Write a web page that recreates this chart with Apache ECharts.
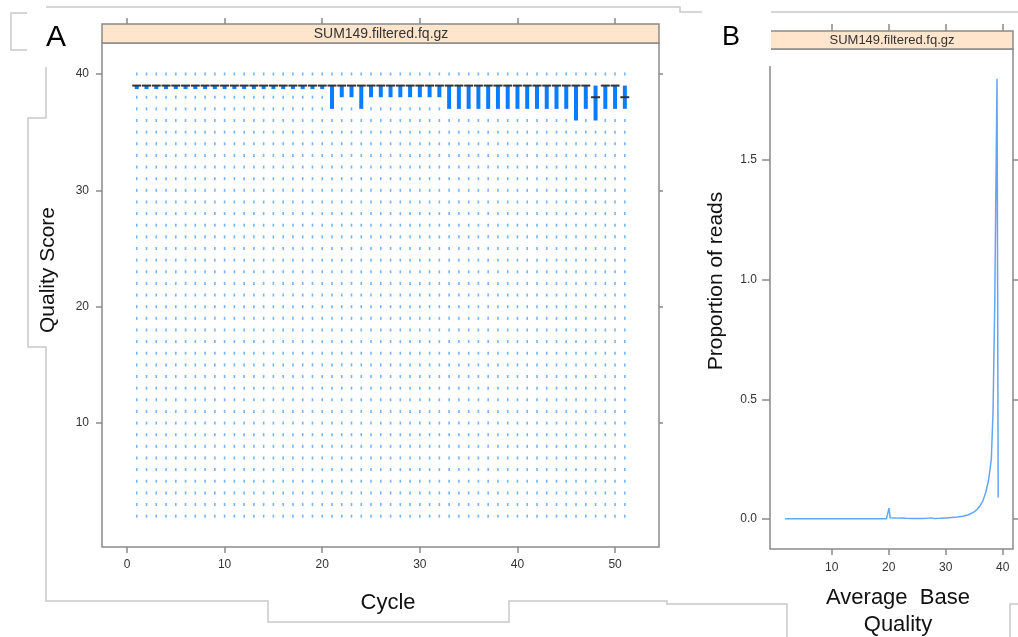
<!DOCTYPE html>
<html>
<head>
<meta charset="utf-8">
<title>SUM149 quality</title>
<script src="https://cdn.jsdelivr.net/npm/echarts@6.0.0/dist/echarts.min.js"></script>
<style>
  html, body { margin: 0; padding: 0; background: #fff; }
  #chart { width: 1018px; height: 637px; }
</style>
</head>
<body>
<div id="chart"></div>
<script>
// panel A: per-cycle quality boxes
const cycles = [1, 2, 3, 4, 5, 6, 7, 8, 9, 10, 11, 12, 13, 14, 15, 16, 17, 18, 19, 20,
  21, 22, 23, 24, 25, 26, 27, 28, 29, 30, 31, 32, 33, 34, 35, 36, 37, 38, 39, 40,
  41, 42, 43, 44, 45, 46, 47, 48, 49, 50, 51];
const lowerQuartile = [39, 39, 39, 39, 39, 39, 39, 39, 39, 39, 39, 39, 39, 39, 39, 39, 39, 39, 39, 39,
  37, 38, 38, 37, 38, 38, 38, 38, 38, 38, 38, 38, 37, 37, 37, 37, 37, 37, 37, 37,
  37, 37, 37, 37, 37, 36, 37, 36, 37, 37, 37];
const medianScore = [39, 39, 39, 39, 39, 39, 39, 39, 39, 39, 39, 39, 39, 39, 39, 39, 39, 39, 39, 39,
  39, 39, 39, 39, 39, 39, 39, 39, 39, 39, 39, 39, 39, 39, 39, 39, 39, 39, 39, 39,
  39, 39, 39, 39, 39, 39, 39, 38, 39, 39, 38];
const upperQuartile = [39, 39, 39, 39, 39, 39, 39, 39, 39, 39, 39, 39, 39, 39, 39, 39, 39, 39, 39, 39,
  39, 39, 39, 39, 39, 39, 39, 39, 39, 39, 39, 39, 39, 39, 39, 39, 39, 39, 39, 39,
  39, 39, 39, 39, 39, 39, 39, 39, 39, 39, 39];
// quality levels seen in the reads (drawn as outlier points outside the box)
const scoreLevels = [2, 3, 4, 5, 6, 7, 8, 9, 10, 11, 12, 13, 14, 15, 16, 17, 18, 19, 20, 21,
  22, 23, 24, 25, 26, 27, 28, 29, 30, 31, 32, 33, 34, 35, 36, 37, 38, 39, 40];
const cycleTicks = [0, 10, 20, 30, 40, 50];
const scoreTicks = [10, 20, 30, 40];

// panel B: density of average read quality
const avgQuality = [1.8, 4, 6, 8, 10, 12, 14, 16, 18, 19.6, 19.95, 20.05, 20.25, 20.6, 21, 21.5, 22, 23,
  24, 25, 26, 27, 27.5, 28, 29, 30, 31, 32, 33, 34, 35, 35.5, 36, 36.5, 37, 37.5, 38,
  38.3, 38.6, 38.85, 39.0, 39.1, 39.2];
const readProportion = [0.001, 0.001, 0.001, 0.001, 0.001, 0.001, 0.001, 0.001, 0.001, 0.001, 0.004, 0.046, 0.006, 0.004, 0.005, 0.004, 0.005, 0.003,
  0.002, 0.002, 0.002, 0.004, 0.005, 0.002, 0.003, 0.005, 0.007, 0.009, 0.012, 0.018, 0.03, 0.04, 0.055, 0.075, 0.11, 0.16, 0.25,
  0.45, 0.9, 1.5, 1.84, 1.0, 0.09];
const avgTicks = [10, 20, 30, 40];
const propTicks = [0, 0.5, 1, 1.5];

const panelTitle = "SUM149.filtered.fq.gz";

const FONT = "'Liberation Sans', Arial, sans-serif";
const frameGrey = "#8a8a8a";
const decoGrey = "#c9c9c9";
const stripFill = "#ffe5cc";
const boxBlue = "#0a7dff";

const boxData = cycles.map((c, i) => [c, lowerQuartile[i], medianScore[i], upperQuartile[i]]);
const outlierData = [];
cycles.forEach((c, i) => {
  scoreLevels.forEach((s) => {
    if (s < lowerQuartile[i] || s > upperQuartile[i]) outlierData.push([c, s]);
  });
});
const densityData = avgQuality.map((q, i) => [q, readProportion[i]]);

function tickAxis(opts) {
  // an axis that only draws ticks (and optionally labels) around a lattice-like frame
  return Object.assign({
    type: "value",
    axisLine: { show: false, onZero: false },
    splitLine: { show: false },
    axisLabel: { show: false },
  }, opts);
}

function ticks(values, len) {
  return { show: true, customValues: values, length: len, lineStyle: { color: frameGrey, width: 1.5 } };
}

function labelStyle(values, margin, formatter) {
  return {
    show: true,
    customValues: values,
    margin: margin,
    fontSize: 12,
    color: "#333",
    fontFamily: FONT,
    formatter: formatter,
  };
}

function renderBox(params, api) {
  const x = api.value(0);
  const lo = api.coord([x, api.value(1)]);
  const med = api.coord([x, api.value(2)]);
  const hi = api.coord([x, api.value(3)]);
  const h = Math.max(lo[1] - hi[1], 3.5);
  return {
    type: "group",
    children: [
      { type: "rect", shape: { x: hi[0] - 2, y: hi[1], width: 4, height: h }, style: { fill: boxBlue } },
      { type: "line", shape: { x1: med[0] - 4.5, y1: med[1], x2: med[0] + 4.5, y2: med[1] },
        style: { stroke: "#333", lineWidth: 2 } },
    ],
  };
}

const chart = echarts.init(document.getElementById("chart"), null, { renderer: "canvas" });

const option = {
  animation: false,
  backgroundColor: "#fff",
  grid: [
    { left: 102, top: 43, width: 557, height: 504, show: true, borderColor: frameGrey, borderWidth: 1.5, backgroundColor: "#fff" },
    { left: 770, top: 49, width: 243, height: 500, show: true, borderColor: frameGrey, borderWidth: 1.5, backgroundColor: "#fff" },
  ],
  xAxis: [
    tickAxis({ gridIndex: 0, min: -2.56, max: 54.5, axisTick: ticks(cycleTicks, 6),
      axisLabel: labelStyle(cycleTicks, 12) }),
    tickAxis({ gridIndex: 0, position: "top", offset: 19, min: -2.56, max: 54.5, axisTick: ticks(cycleTicks, 6) }),
    tickAxis({ gridIndex: 1, min: -0.82, max: 41.8, axisTick: ticks(avgTicks, 6),
      axisLabel: labelStyle(avgTicks, 13) }),
    tickAxis({ gridIndex: 1, position: "top", offset: 18, min: -0.82, max: 41.8, axisTick: ticks(avgTicks, 7) }),
  ],
  yAxis: [
    tickAxis({ gridIndex: 0, min: -0.65, max: 42.66, axisTick: ticks(scoreTicks, 6),
      axisLabel: labelStyle(scoreTicks, 13) }),
    tickAxis({ gridIndex: 0, position: "right", min: -0.65, max: 42.66, axisTick: ticks(scoreTicks, 4) }),
    tickAxis({ gridIndex: 1, min: -0.125, max: 1.964, axisTick: ticks(propTicks, 8),
      axisLabel: labelStyle(propTicks, 13, (v) => Number(v).toFixed(1)) }),
    tickAxis({ gridIndex: 1, position: "right", min: -0.125, max: 1.964, axisTick: ticks(propTicks, 5) }),
  ],
  series: [
    {
      name: "outliers",
      type: "scatter",
      xAxisIndex: 0,
      yAxisIndex: 0,
      data: outlierData,
      symbol: "rect",
      symbolSize: [1.6, 3],
      itemStyle: { color: "#4ea2ff" },
      silent: true,
    },
    {
      name: "boxes",
      type: "custom",
      xAxisIndex: 0,
      yAxisIndex: 0,
      data: boxData,
      renderItem: renderBox,
      encode: { x: 0, y: [1, 2, 3] },
      z: 3,
    },
    {
      name: "density",
      type: "line",
      xAxisIndex: 2,
      yAxisIndex: 2,
      data: densityData,
      showSymbol: false,
      smooth: false,
      lineStyle: { color: "#62a6f7", width: 1.5 },
    },
  ],
  graphic: [
    // strips
    { type: "rect", z: 50, shape: { x: 102, y: 24, width: 557, height: 19 },
      style: { fill: stripFill, stroke: frameGrey, lineWidth: 1.5 } },
    { type: "text", z: 51, x: 381, y: 34,
      style: { text: panelTitle, font: "14px " + FONT, fill: "#333", textAlign: "center", textVerticalAlign: "middle" } },
    { type: "rect", z: 50, shape: { x: 770, y: 31, width: 243, height: 18 },
      style: { fill: stripFill, stroke: frameGrey, lineWidth: 1.5 } },
    { type: "text", z: 51, x: 892, y: 40,
      style: { text: panelTitle, font: "13px " + FONT, fill: "#333", textAlign: "center", textVerticalAlign: "middle" } },
    // white patch that hides the top of panel B's left border
    { type: "rect", z: 60, shape: { x: 703, y: 13, width: 68, height: 53 }, style: { fill: "#fff" } },
    // panel letters
    { type: "text", z: 70, x: 56, y: 38,
      style: { text: "A", font: "30px " + FONT, fill: "#000", textAlign: "center", textVerticalAlign: "middle" } },
    { type: "text", z: 70, x: 731, y: 38,
      style: { text: "B", font: "27px " + FONT, fill: "#000", textAlign: "center", textVerticalAlign: "middle" } },
    // axis titles
    { type: "text", z: 70, x: 48, y: 270, rotation: Math.PI / 2,
      style: { text: "Quality Score", font: "21px " + FONT, fill: "#111", textAlign: "center", textVerticalAlign: "middle" } },
    { type: "text", z: 70, x: 388, y: 603,
      style: { text: "Cycle", font: "22px " + FONT, fill: "#111", textAlign: "center", textVerticalAlign: "middle" } },
    { type: "text", z: 70, x: 716, y: 281, rotation: Math.PI / 2,
      style: { text: "Proportion of reads", font: "21px " + FONT, fill: "#111", textAlign: "center", textVerticalAlign: "middle" } },
    { type: "text", z: 70, x: 898, y: 598,
      style: { text: "Average  Base", font: "22px " + FONT, fill: "#111", textAlign: "center", textVerticalAlign: "middle" } },
    { type: "text", z: 70, x: 898, y: 625,
      style: { text: "Quality", font: "22px " + FONT, fill: "#111", textAlign: "center", textVerticalAlign: "middle" } },
    // light crop outlines of the composed figure
    { type: "polyline", z: 40, silent: true, shape: { points: [[27, 13], [11, 13], [11, 50], [27, 50]] },
      style: { stroke: decoGrey, lineWidth: 1.5, fill: null } },
    { type: "polyline", z: 40, silent: true, shape: { points: [[46, 7], [680, 7], [680, 12], [702, 12]] },
      style: { stroke: decoGrey, lineWidth: 1.5, fill: null } },
    { type: "polyline", z: 40, silent: true, shape: { points: [[771, 12], [1018, 12]] },
      style: { stroke: decoGrey, lineWidth: 1.5, fill: null } },
    { type: "polyline", z: 40, silent: true,
      shape: { points: [[46, 67], [46, 118], [28, 118], [28, 347], [46, 347], [46, 601], [268, 601], [268, 622],
        [509, 622], [509, 601], [667, 601], [667, 604], [787, 604], [787, 637]] },
      style: { stroke: decoGrey, lineWidth: 1.5, fill: null } },
    { type: "polyline", z: 40, silent: true, shape: { points: [[1018, 604], [1010, 604], [1010, 637]] },
      style: { stroke: decoGrey, lineWidth: 1.5, fill: null } },
  ],
};

chart.setOption(option);
</script>
</body>
</html>
